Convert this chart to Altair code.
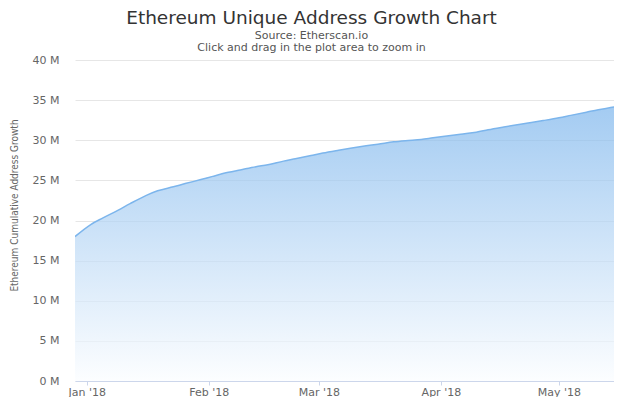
import altair as alt
import pandas as pd

dates = ["2017-12-29", "2018-01-02", "2018-01-05", "2018-01-09", "2018-01-12", "2018-01-16",
         "2018-01-19", "2018-01-23", "2018-01-26", "2018-01-30", "2018-02-02", "2018-02-06",
         "2018-02-09", "2018-02-13", "2018-02-16", "2018-02-20", "2018-02-23", "2018-02-27",
         "2018-03-02", "2018-03-06", "2018-03-09", "2018-03-13", "2018-03-16", "2018-03-20",
         "2018-03-23", "2018-03-27", "2018-03-30", "2018-04-03", "2018-04-06", "2018-04-10",
         "2018-04-13", "2018-04-17", "2018-04-20", "2018-04-24", "2018-04-27", "2018-05-01",
         "2018-05-04", "2018-05-08", "2018-05-11", "2018-05-15", "2018-05-17"]
addresses_m = [18.0, 19.5, 20.3, 21.3, 22.1, 23.1, 23.7, 24.2, 24.6, 25.1, 25.5, 26.0,
               26.3, 26.7, 26.95, 27.4, 27.7, 28.1, 28.4, 28.75, 29.0, 29.3, 29.5, 29.8,
               29.95, 30.1, 30.3, 30.55, 30.75, 31.0, 31.3, 31.65, 31.9, 32.2, 32.45, 32.8,
               33.1, 33.5, 33.8, 34.15, 34.35]
y_ticks = [0, 5, 10, 15, 20, 25, 30, 35, 40]
month_ticks = [(2018, 1), (2018, 2), (2018, 3), (2018, 4), (2018, 5)]
x_start = (2017, 12, 29)
x_end = (2018, 5, 15)

df = pd.DataFrame({"date": dates, "value": addresses_m})

grad = alt.Gradient(
    gradient="linear",
    stops=[alt.GradientStop(color="#fbfdff", offset=0),
           alt.GradientStop(color="#7cb5ec", offset=1)],
    x1=1, x2=1, y1=1, y2=0,
)

chart = alt.Chart(df).mark_area(
    color=grad,
    interpolate="monotone",
    clip=True,
    line={"color": "#7cb5ec", "strokeWidth": 1.5},
).encode(
    x=alt.X("date:T",
            scale=alt.Scale(
                type="utc", nice=False, padding=0,
                domain=[alt.DateTime(year=x_start[0], month=x_start[1], date=x_start[2], utc=True),
                        alt.DateTime(year=x_end[0], month=x_end[1], date=x_end[2], utc=True)]),
            axis=alt.Axis(
                title=None,
                values=[alt.DateTime(year=y, month=m, date=1, utc=True) for y, m in month_ticks],
                format="%b '%y",
                grid=False,
                domainColor="#ccd6eb",
                tickColor="#ccd6eb",
                tickSize=4,
                labelFont="DejaVu Sans",
                labelFontSize=11,
                labelColor="#666666",
                labelPadding=1,
                labelFlush=False,
            )),
    y=alt.Y("value:Q",
            scale=alt.Scale(domain=[0, 40], nice=False),
            axis=alt.Axis(
                title="Ethereum Cumulative Address Growth",
                titleFont="Liberation Sans Narrow, DejaVu Sans Condensed, Arial Narrow, sans-serif",
                titleFontSize=10,
                titleFontWeight="normal",
                titleColor="#666666",
                titleX=-61,
                titleY=145,
                titleAngle=-90,
                titleAlign="center",
                titleBaseline="middle",
                values=y_ticks,
                labelExpr="datum.value + ' M'",
                labelFont="DejaVu Sans",
                labelFontSize=11,
                labelColor="#666666",
                labelPadding=16,
                domain=False,
                ticks=False,
                gridColor="#e6e6e6",
            )),
).properties(
    width=539,
    height=321,
    title=alt.TitleParams(
        text="Ethereum Unique Address Growth Chart",
        subtitle=["Source: Etherscan.io", "Click and drag in the plot area to zoom in"],
        font="DejaVu Sans",
        fontSize=18.5,
        fontWeight="normal",
        color="#333333",
        subtitleFont="DejaVu Sans",
        subtitleFontSize=11,
        subtitleColor="#555555",
        subtitleLineHeight=12.5,
        subtitlePadding=2,
        anchor="middle",
        frame="group",
        dx=-33,
        offset=1,
    ),
    autosize="none",
    padding={"left": 67, "top": 52, "right": 0, "bottom": 16},
).configure_view(stroke=None)

chart.save("out.html", embed_options={"renderer": "svg", "actions": False})
